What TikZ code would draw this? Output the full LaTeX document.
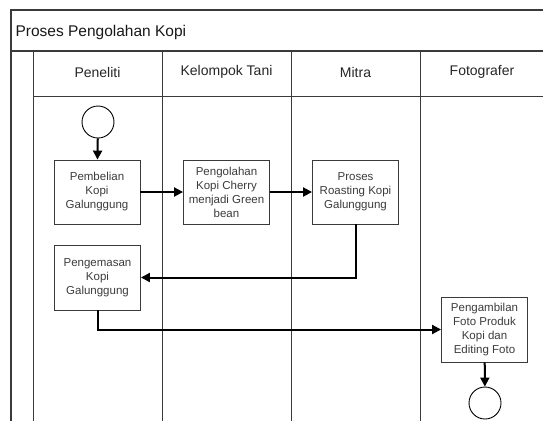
\documentclass[tikz,border=0pt]{standalone}
\usepackage{fontspec}
\setmainfont{Liberation Sans}
\usetikzlibrary{arrows.meta}
\definecolor{frameline}{HTML}{3A3A3A}
\definecolor{boxtext}{HTML}{3C3C3C}
\begin{document}
\begin{tikzpicture}[x=1pt,y=-1pt,
  pool/.style={draw=frameline,line width=1.1pt},
  lane/.style={draw=frameline,line width=0.9pt},
  stepbox/.style={draw=frameline,line width=0.9pt,fill=white,rectangle,
    minimum width=86pt,minimum height=64pt,inner sep=1pt,align=center,
    text=boxtext,font=\fontsize{11.5}{14}\selectfont},
  terminal/.style={draw=black,line width=0.9pt,fill=white,circle,
    minimum size=32pt,inner sep=0pt},
  flow/.style={draw=black,line width=2pt,
    -{Triangle[length=9pt,width=9pt]}},
  lanehead/.style={text=black!85,font=\fontsize{14}{16}\selectfont}]
\useasboundingbox (0,0) rectangle (543,421);
\fill[white] (0,0) rectangle (543,421);

% pool frame and title band
\draw[pool] (543,10) -- (11,10) -- (11,421);
\draw[pool] (11,51) -- (543,51);
\node[anchor=base west,text=black!90,font=\fontsize{15.5}{18}\selectfont]
  (title) at (12,36) {Proses Pengolahan Kopi};

% lane header band and lane separators
\draw[lane] (33,96) -- (543,96);
\foreach \lx in {33,162,291,420}
  \draw[lane] (\lx,51) -- (\lx,421);
\node[lanehead] (h1) at (97.5,72) {Peneliti};
\node[lanehead] (h2) at (226.5,72) {Kelompok Tani};
\node[lanehead] (h3) at (355.5,72) {Mitra};
\node[lanehead] (h4) at (482,72) {Fotografer};

% activities
\node[terminal] (start) at (98,122) {};
\node[stepbox] (beli) at (97,192) {Pembelian\\Kopi\\Galunggung};
\node[stepbox] (olah) at (226.5,192) {Pengolahan\\Kopi Cherry\\menjadi Green\\bean};
\node[stepbox] (roast) at (355.5,192) {Proses\\Roasting Kopi\\Galunggung};
\node[stepbox,minimum height=65pt] (kemas) at (97.5,277.5) {Pengemasan\\Kopi\\Galunggung};
\node[stepbox,minimum height=65pt] (foto) at (484.5,329.5) {Pengambilan\\Foto Produk\\Kopi dan\\Editing Foto};
\node[terminal] (end) at (485,403) {};

% control flow
\draw[flow] (start) -- (beli);
\draw[flow] (beli.east) -- (olah.west);
\draw[flow] (olah.east) -- (roast.west);
\draw[flow] (roast.south) |- (kemas.east);
\draw[flow] (kemas.south) |- (foto.west);
\draw[flow] (foto) -- (end);
\end{tikzpicture}
\end{document}
